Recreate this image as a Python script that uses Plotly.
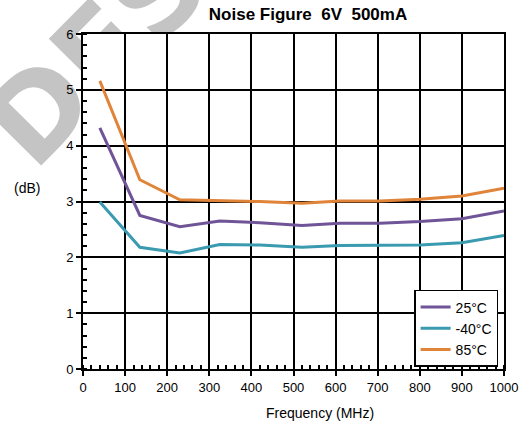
import plotly.graph_objects as go

freq = [40, 135, 230, 325, 420, 520, 610, 705, 800, 900, 1000]
nf_25 = [4.32, 2.75, 2.55, 2.65, 2.62, 2.57, 2.61, 2.61, 2.64, 2.69, 2.83]
nf_m40 = [2.99, 2.18, 2.08, 2.23, 2.22, 2.18, 2.21, 2.21, 2.22, 2.26, 2.39]
nf_85 = [5.16, 3.39, 3.03, 3.02, 3.00, 2.97, 3.01, 3.01, 3.04, 3.10, 3.24]
series_names = ["25°C", "-40°C", "85°C"]
colors = ["#6F5497", "#3A9AB0", "#E0843A"]

fig = go.Figure()
for name, vals, col in zip(series_names, [nf_25, nf_m40, nf_85], colors):
    fig.add_trace(go.Scatter(x=freq, y=vals, mode="lines", name=name,
                             line=dict(color=col, width=3)))

font_family = "Liberation Sans, Arial, sans-serif"
axis_common = dict(
    showgrid=True, gridcolor="black", gridwidth=1.5,
    showline=True, linecolor="black", linewidth=2, mirror=True,
    ticks="outside", ticklen=5, tickwidth=1.5, tickcolor="black",
    zeroline=False,
    tickfont=dict(family=font_family, size=13, color="black"),
)
fig.update_xaxes(range=[0, 1000], dtick=100, tick0=0,
                 minor=dict(ticks="inside", ticklen=4, tickwidth=1.5, tickcolor="black", dtick=20, showgrid=False),
                 **axis_common)
fig.update_yaxes(range=[0, 6], dtick=1, tick0=0,
                 minor=dict(ticks="inside", ticklen=4, tickwidth=1.5, tickcolor="black", dtick=0.2, showgrid=False),
                 **axis_common)

fig.update_layout(
    width=530, height=425,
    margin=dict(l=83, r=21, t=34, b=56),
    paper_bgcolor="white", plot_bgcolor="white",
    title=dict(text="<b>Noise Figure  6V  500mA</b>", x=308 / 530, xanchor="center", y=1 - 14 / 425, yanchor="middle",
               font=dict(family=font_family, size=17, color="black")),
    showlegend=True,
    legend=dict(x=0.986, y=0.006, xanchor="right", yanchor="bottom",
                bgcolor="white", bordercolor="black", borderwidth=1.5,
                font=dict(family=font_family, size=14, color="black"),
                itemwidth=30, tracegroupgap=0),
    shapes=[
        dict(type="line", xref="paper", yref="paper",
             x0=-0.1244, y0=0.7791, x1=0.1573, y1=1.1373,
             line=dict(width=0, color="rgba(0,0,0,0)"), layer="below",
             label=dict(text="DES", textposition="middle", yanchor="middle",
                        font=dict(family="DejaVu Sans", size=115, color="#C4C4C4", weight="bold"))),
        dict(type="rect", xref="paper", yref="paper", x0=0, y0=0, x1=1, y1=1,
             fillcolor="white", line=dict(width=0), layer="below"),
    ],
    annotations=[
        dict(text="(dB)", xref="paper", yref="paper", x=-0.134, y=0.54, xanchor="center",
             showarrow=False, font=dict(family=font_family, size=14, color="black")),
        dict(text="Frequency (MHz)", xref="paper", yref="paper", x=(323 - 83) / 426, y=(369 - 413) / 335,
             xanchor="center", yanchor="middle",
             showarrow=False, font=dict(family=font_family, size=14, color="black")),
    ],
)

fig.write_html("out.html")
